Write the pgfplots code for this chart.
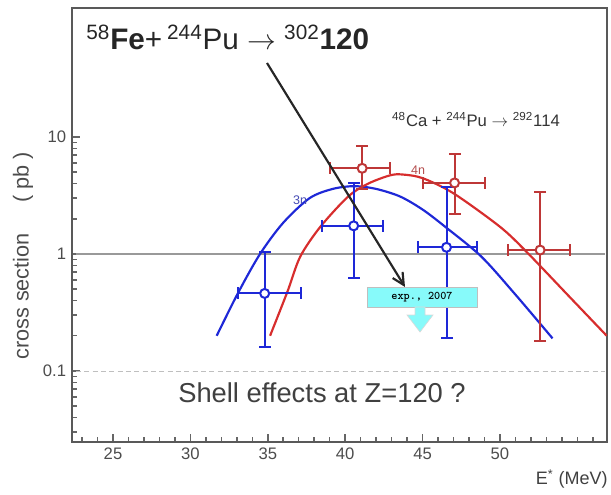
\documentclass[border=0pt]{standalone}
\usepackage{pgfplots}
\pgfplotsset{compat=1.18}
\usepackage{fontspec}
\setmainfont{Liberation Sans}
\usetikzlibrary{arrows.meta}
\definecolor{bl}{RGB}{30,40,215}
\definecolor{rd}{RGB}{215,45,45}
\definecolor{rdd}{RGB}{190,55,55}
\definecolor{aqua}{RGB}{135,250,250}
\begin{document}
\begin{tikzpicture}
\path[use as bounding box] (-43.2pt,-31.8pt) rectangle (323.4pt,265.2pt);
\begin{axis}[
  scale only axis, width=321pt, height=260.4pt,
  xmin=22.35, xmax=56.92, ymode=log, ymin=0.0247, ymax=126.7,
  xtick={25,30,35,40,45,50}, minor xtick={23,24,26,27,28,29,31,32,33,34,36,37,38,39,41,42,43,44,46,47,48,49,51,52,53,54,55,56},
  ytick={0.1,1,10}, yticklabels={0.1,1,10},
  minor ytick={0.03,0.04,0.05,0.06,0.07,0.08,0.09,0.2,0.3,0.4,0.5,0.6,0.7,0.8,0.9,2,3,4,5,6,7,8,9},
  xtick pos=bottom, ytick pos=left, tick align=inside,
  major tick length=4.8pt, minor tick length=3pt,
  tick style={line width=0.9pt, black!60},
  axis line style={line width=1.4pt, black!65},
  ticklabel style={font=\fontsize{10}{12}\selectfont, text=black!70},
  /pgf/number format/assume math mode=true,
  clip=false,
  circ/.style={mark=*, mark size=2.7pt, mark options={fill=white, line width=1.2pt}},
]
% reference lines
\addplot[black!40, line width=1.5pt] coordinates {(22.6,1) (56.8,1)};
\addplot[black!25, densely dashed, line width=0.5pt] coordinates {(22.6,0.1) (56.8,0.1)};
% 3n curve
\addplot[bl, line width=1.3pt, smooth] coordinates {
(31.7,0.2) (33.1,0.47) (34.5,1.0) (36.0,1.85) (37.7,3.0) (39.2,3.6) (40.6,3.8) (42.0,3.6) (43.55,3.1) (45.0,2.4) (46.46,1.71) (48.8,0.95) (51.0,0.45) (53.4,0.19)};
% 4n curve
\addplot[rd, line width=1.3pt, smooth] coordinates {
(35.15,0.2) (36.27,0.476) (37.1,0.95) (38.4,1.71) (40.2,3.1) (41.5,4.0) (42.9,4.7) (43.7,4.78) (45.0,4.45) (47.0,3.3) (50.0,1.71) (51.7,1.05) (54.5,0.43) (56.9,0.2)};
% blue data (3n)
\addplot[bl, line width=1.2pt, mark=-, mark size=3.6pt] coordinates {(34.8,0.16) (34.8,1.03)};
\addplot[bl, line width=1.2pt, mark=|, mark size=3.6pt] coordinates {(33.1,0.46) (37.15,0.46)};
\addplot[bl, circ] coordinates {(34.8,0.46)};
\addplot[bl, line width=1.2pt, mark=-, mark size=3.6pt] coordinates {(40.55,0.62) (40.55,4.05)};
\addplot[bl, line width=1.2pt, mark=|, mark size=3.6pt] coordinates {(38.5,1.74) (42.45,1.74)};
\addplot[bl, circ] coordinates {(40.55,1.74)};
\addplot[bl, line width=1.2pt, mark=-, mark size=3.6pt] coordinates {(46.55,0.19) (46.55,3.76)};
\addplot[bl, line width=1.2pt, mark=|, mark size=3.6pt] coordinates {(44.7,1.14) (48.55,1.14)};
\addplot[bl, circ] coordinates {(46.55,1.14)};
% red data (4n)
\addplot[rdd, line width=1.2pt, mark=-, mark size=3.6pt] coordinates {(41.1,3.57) (41.1,8.4)};
\addplot[rdd, line width=1.2pt, mark=|, mark size=3.6pt] coordinates {(39.0,5.4) (42.9,5.4)};
\addplot[rdd, circ] coordinates {(41.1,5.4)};
\addplot[rdd, line width=1.2pt, mark=-, mark size=3.6pt] coordinates {(47.07,2.18) (47.07,7.2)};
\addplot[rdd, line width=1.2pt, mark=|, mark size=3.6pt] coordinates {(45.0,4.05) (49.05,4.05)};
\addplot[rdd, circ] coordinates {(47.07,4.05)};
\addplot[rdd, line width=1.2pt, mark=-, mark size=3.6pt] coordinates {(52.6,0.18) (52.6,3.4)};
\addplot[rdd, line width=1.2pt, mark=|, mark size=3.6pt] coordinates {(50.55,1.08) (54.5,1.08)};
\addplot[rdd, circ] coordinates {(52.6,1.08)};
\end{axis}
\begin{scope}[x=0.6pt,y=-0.6pt,shift={(-43.2pt,265.2pt)}]
% title
\node[anchor=base west, inner sep=0pt, text=black!85] at (86,50) {\fontsize{17.8}{20}\selectfont \textsuperscript{58}\textbf{Fe}+\,\textsuperscript{244}Pu $\rightarrow$ \textsuperscript{302}\textbf{120}};
\node[anchor=base, inner sep=0pt, text=black!80] at (476,127) {\fontsize{10}{12}\selectfont \textsuperscript{48}Ca + \textsuperscript{244}Pu $\rightarrow$ \textsuperscript{292}114};
% arrow
\draw[line width=1.3pt, black!85, -{Straight Barb[length=7pt,width=7pt]}] (267,63) -- (405,287);
% exp box
\node[draw=black!25, fill=aqua, minimum width=66pt, minimum height=12pt, inner sep=0pt] at (422,297) {\ttfamily\bfseries\fontsize{7}{8}\selectfont exp., 2007};
\filldraw[fill=aqua, draw=black!15, line width=0.4pt] (415,307) -- (425,307) -- (425,315) -- (433,315) -- (420,332) -- (407,315) -- (415,315) -- cycle;
% labels
\node[text=bl!60!gray, inner sep=0pt] at (300,200) {\fontsize{7.5}{9}\selectfont 3n};
\node[text=rd!60!gray, inner sep=0pt] at (418,170) {\fontsize{7.5}{9}\selectfont 4n};
\node[text=black!75, inner sep=0pt] at (322,393) {\fontsize{16.4}{19}\selectfont Shell effects at Z=120 ?};
\node[rotate=90, text=black!70, inner sep=0pt] at (23,256) {\fontsize{13}{15}\selectfont cross section\hspace{1.4em}( pb )};
\node[anchor=east, text=black!75, inner sep=0pt] at (608,479) {\fontsize{10.8}{13}\selectfont E\textsuperscript{*} (MeV)};
\end{scope}
\end{tikzpicture}
\end{document}
